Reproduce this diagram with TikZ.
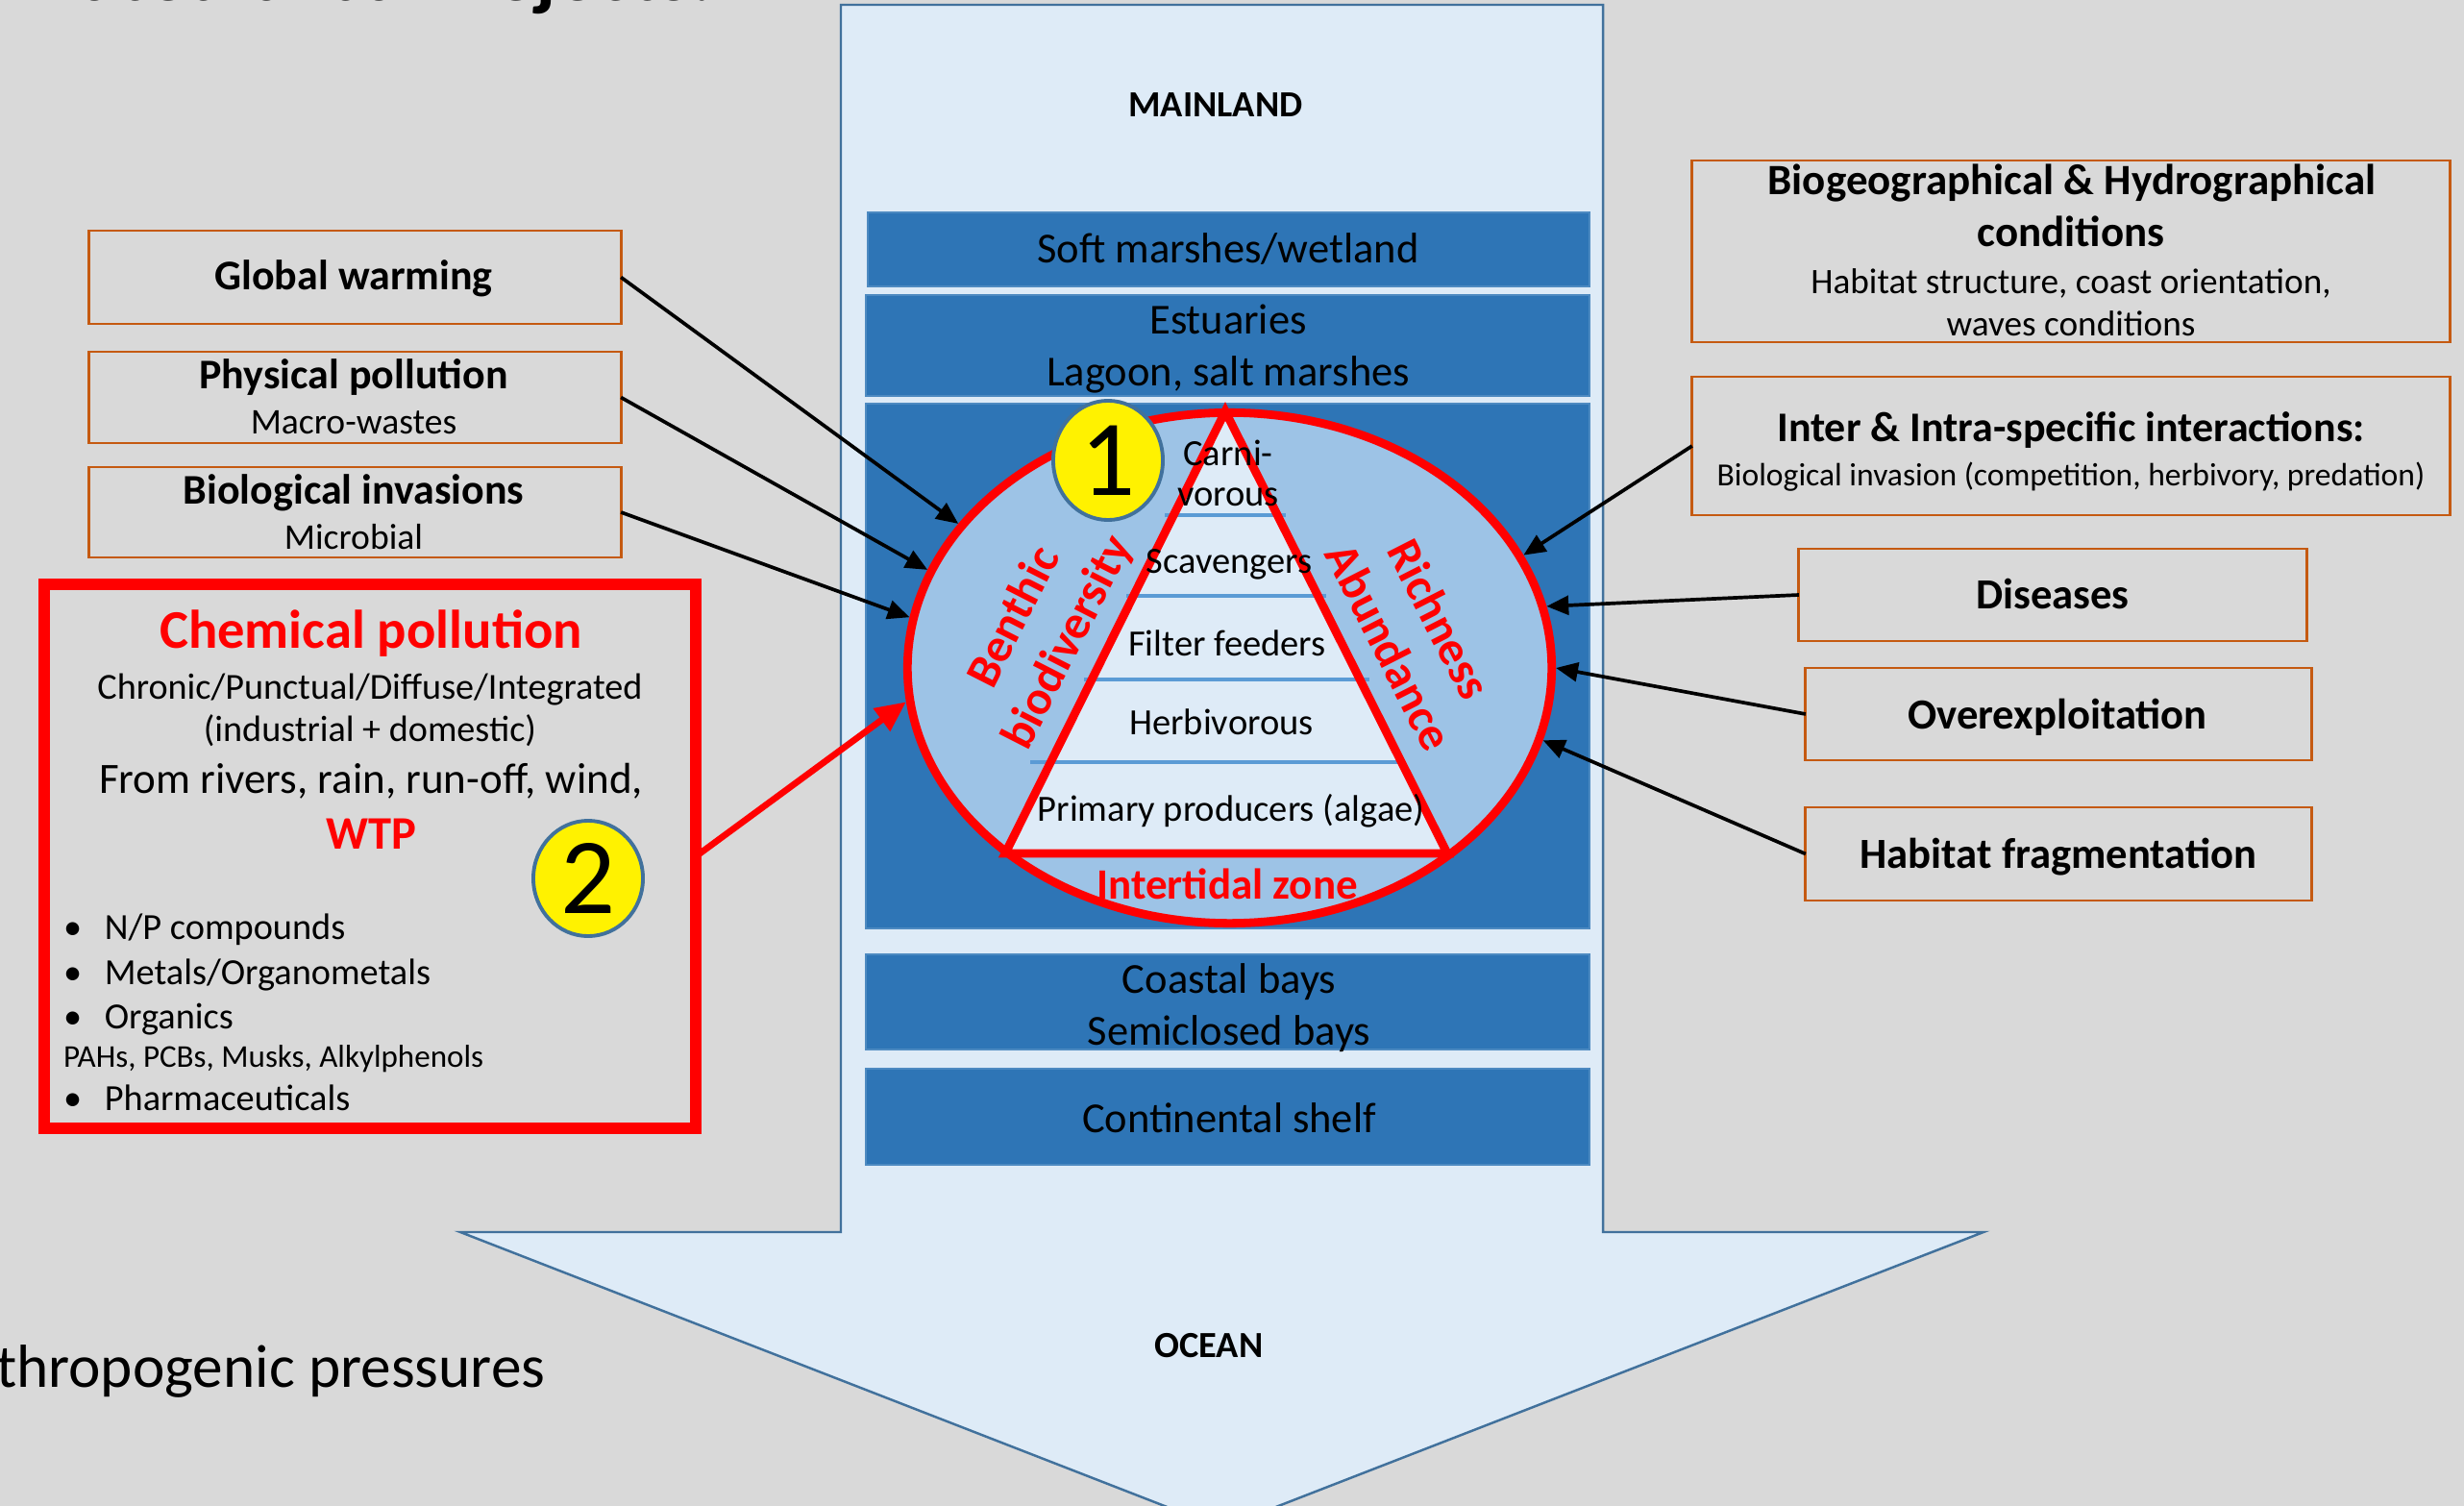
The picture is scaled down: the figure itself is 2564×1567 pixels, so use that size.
\documentclass[tikz,border=0pt]{standalone}
\usepackage{fontspec}
\setmainfont{Carlito}
\usetikzlibrary{arrows.meta,shapes.geometric}
\definecolor{bg}{HTML}{D9D9D9}
\definecolor{lblue}{HTML}{DEEBF7}
\definecolor{arrowedge}{HTML}{41719C}
\definecolor{bandc}{HTML}{2E75B6}
\definecolor{ellfill}{HTML}{9DC3E6}
\definecolor{pyrline}{HTML}{5B9BD5}
\definecolor{orangeb}{HTML}{C55A11}
\newcommand{\fsz}[1]{\fontsize{#1pt}{#1pt}\selectfont}
\begin{document}
\begin{tikzpicture}[x=0.01cm,y=-0.01cm,
  txt/.style={inner sep=0pt, outer sep=0pt, anchor=base},
  obox/.style={draw=orangeb, line width=0.8pt, inner sep=0pt, outer sep=0pt},
  bandbox/.style={fill=bandc, draw=bandc!85!white, line width=0.5pt, inner sep=0pt, outer sep=0pt},
  blk/.style={draw=black, line width=1.05pt, -{Triangle[length=6.5pt,width=5.6pt]}},
  numc/.style={ellipse, draw=arrowedge, line width=1.1pt, fill=yellow, inner sep=0pt},
  rlab/.style={inner sep=0pt, outer sep=0pt, anchor=center, text=red, font=\fsz{14.1}\bfseries},
  bandtxt/.style={txt, font=\fsz{12.65}},
  pyrtxt/.style={txt, font=\fsz{10.95}},
  bul/.style={txt, anchor=base west, font=\fsz{10.9}}
]
\useasboundingbox (0,0) rectangle (2564,1567);
\clip (0,0) rectangle (2564,1567);
\fill[bg] (0,0) rectangle (2564,1567);

% cut title fragment
\node[txt, anchor=base east, font=\fsz{24}\bfseries] (title) at (742,1) {ated urban rejects.};

% big arrow
\draw[arrowedge, line width=0.7pt, fill=lblue] (875,5) -- (1668,5) -- (1668,1282) -- (2064,1282) -- (1271,1590) -- (479,1282) -- (875,1282) -- cycle;
\node[txt, font=\fsz{10.9}\bfseries] (mainland) at (1265,122) {MAINLAND};
\node[txt, font=\fsz{10.9}\bfseries] (ocean) at (1258,1412) {OCEAN};

% bands
\node[bandbox, minimum width=7.51cm, minimum height=0.77cm] (soft) at (1278.5,259.5) {};
\node[bandbox, minimum width=7.53cm, minimum height=1.05cm] (estu) at (1277.5,359.5) {};
\node[bandbox, minimum width=7.53cm, minimum height=5.46cm] (inter) at (1277.5,693) {};
\node[bandbox, minimum width=7.53cm, minimum height=0.99cm] (coast) at (1277.5,1042.5) {};
\node[bandbox, minimum width=7.53cm, minimum height=1.00cm] (shelf) at (1277.5,1162) {};
\node[bandtxt] (softt) at (1278,274) {Soft marshes/wetland};
\node[bandtxt] (estut) at (1278,348) {Estuaries};
\node[bandtxt] (lagt) at (1278,402) {Lagoon, salt marshes};
\node[bandtxt] (coastt) at (1279,1033) {Coastal bays};
\node[bandtxt] (semit) at (1279,1087) {Semiclosed bays};
\node[bandtxt] (shelft) at (1279,1178) {Continental shelf};

% ellipse
\node[ellipse, draw=red, fill=ellfill, line width=2.5pt, minimum width=6.70cm, minimum height=5.31cm, inner sep=0pt] (eco) at (1279.5,695) {};

% pyramid
\coordinate (apex) at (1275,428);
\coordinate (bl) at (1046,888);
\coordinate (br) at (1506,888);
\fill[lblue] (apex) -- (bl) -- (br) -- cycle;
\draw[pyrline, line width=0.9pt] (1212,536) -- (1338,536);
\draw[pyrline, line width=0.9pt] (1172,620) -- (1380,620);
\draw[pyrline, line width=0.9pt] (1128,707) -- (1425,707);
\draw[pyrline, line width=0.9pt] (1072,793) -- (1462,793);
\draw[red, line width=2.5pt, line join=miter] (apex) -- (bl) -- (br) -- cycle;

\node[pyrtxt] (carni) at (1278,485) {Carni-};
\node[pyrtxt] (vorous) at (1278,526) {vorous};
\node[pyrtxt] (scav) at (1279,596) {Scavengers};
\node[pyrtxt] (filt) at (1277,682) {Filter feeders};
\node[pyrtxt] (herb) at (1271,764) {Herbivorous};
\node[pyrtxt] (prim) at (1281,854) {Primary producers (algae)};
\node[txt, font=\fsz{12.8}\bfseries, text=red] (intz) at (1277,935) {Intertidal zone};

\node[rlab, rotate=63] (benth) at (1053,641) {Benthic};
\node[rlab, rotate=63] (biod) at (1112,669) {biodiversity};
\node[rlab, rotate=-63] (rich) at (1498,644) {Richness};
\node[rlab, rotate=-63] (abund) at (1446,673) {Abundance};

\node[numc, minimum width=1.14cm, minimum height=1.24cm, font=\fsz{32}] (one) at (1153,479) {1};

% left boxes
\node[obox, minimum width=5.53cm, minimum height=0.97cm] (gw) at (369.5,288.5) {};
\node[txt, font=\fsz{12.5}\bfseries] (gwt) at (368,302) {Global warming};
\node[obox, minimum width=5.53cm, minimum height=0.95cm] (pp) at (369.5,413.5) {};
\node[txt, font=\fsz{12.5}\bfseries] (ppt) at (368,405) {Physical pollution};
\node[txt, font=\fsz{10.7}] (pps) at (368,452) {Macro-wastes};
\node[obox, minimum width=5.53cm, minimum height=0.94cm] (bi) at (369.5,533) {};
\node[txt, font=\fsz{12.5}\bfseries] (bit) at (368,524) {Biological invasions};
\node[txt, font=\fsz{10.7}] (bis) at (368,571) {Microbial};

% chemical box
\node[draw=red, line width=3.4pt, minimum width=6.78cm, minimum height=5.66cm, inner sep=0pt, outer sep=0pt] (chem) at (385,891) {};
\node[txt, font=\fsz{16.1}\bfseries, text=red] (chemt) at (386,674) {Chemical pollution};
\node[txt, font=\fsz{10.85}] (chr) at (385,727) {Chronic/Punctual/Diffuse/Integrated};
\node[txt, font=\fsz{10.85}] (ind) at (385,771) {(industrial + domestic)};
\node[txt, font=\fsz{12.8}] (from) at (386,825) {From rivers, rain, run-off, wind,};
\node[txt, font=\fsz{13.8}\bfseries, text=red] (wtp) at (386,883) {WTP};
\node[bul] (b1) at (66,977) {\textbullet\hspace{0.62em}N/P compounds};
\node[bul] (b2) at (66,1024) {\textbullet\hspace{0.62em}Metals/Organometals};
\node[bul] (b3) at (66,1070) {\textbullet\hspace{0.62em}Organics};
\node[txt, anchor=base west, font=\fsz{9.4}] (b3s) at (66,1110) {PAHs,\ PCBs,\ Musks,\ Alkylphenols};
\node[bul] (b4) at (66,1155) {\textbullet\hspace{0.62em}Pharmaceuticals};
\node[numc, minimum width=1.14cm, minimum height=1.20cm, font=\fsz{32}] (two) at (612,914) {2};

\node[txt, anchor=base west, font=\fsz{18}] (anth) at (-4,1443) {thropogenic pressures};

% right boxes
\node[obox, minimum width=7.88cm, minimum height=1.89cm] (bio) at (2155,261.5) {};
\node[txt, font=\fsz{12.8}\bfseries] (biot1) at (2156,203) {Biogeographical \& Hydrographical};
\node[txt, font=\fsz{12.8}\bfseries] (biot2) at (2155,257) {conditions};
\node[txt, font=\fsz{10.6}] (bios1) at (2155,306) {Habitat structure, coast orientation,};
\node[txt, font=\fsz{10.6}] (bios2) at (2155,350) {waves conditions};
\node[obox, minimum width=7.88cm, minimum height=1.44cm] (ii) at (2155,464) {};
\node[txt, font=\fsz{12.5}\bfseries] (iit) at (2155,459) {Inter \& Intra-specific interactions:};
\node[txt, font=\fsz{9.55}] (iis) at (2155,505) {Biological invasion\ (competition,\ herbivory,\ predation)};
\node[obox, minimum width=5.28cm, minimum height=0.96cm] (dis) at (2136,619) {};
\node[txt, font=\fsz{12.7}\bfseries] (dist) at (2136,633) {Diseases};
\node[obox, minimum width=5.26cm, minimum height=0.96cm] (over) at (2142,743) {};
\node[txt, font=\fsz{12.7}\bfseries] (overt) at (2141,758) {Overexploitation};
\node[obox, minimum width=5.26cm, minimum height=0.97cm] (hab) at (2142,888.5) {};
\node[txt, font=\fsz{12.7}\bfseries] (habt) at (2142,903) {Habitat fragmentation};

% connectors
\draw[blk] (gw.east) -- (eco.152);
\draw[blk] (pp.east) -- (eco.162);
\draw[blk] (bi.east) -- (eco.171);
\draw[draw=red, line width=1.9pt, -{Triangle[length=9pt,width=8pt]}] (chem.east) -- (eco.186.5);
\draw[blk] (ii.west) -- (eco.21);
\draw[blk] (dis.west) -- (eco.11);
\draw[blk] (over.west) -- (eco.-0.5);
\draw[blk] (hab.west) -- (eco.-13.5);
\end{tikzpicture}
\end{document}
